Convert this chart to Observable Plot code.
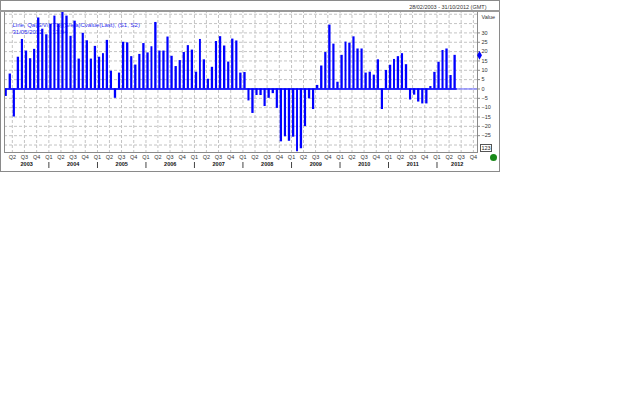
<!DOCTYPE html>
<html><head><meta charset="utf-8">
<script src="https://cdn.jsdelivr.net/npm/d3@7"></script>
<script src="https://cdn.jsdelivr.net/npm/@observablehq/plot@0.6"></script>
<style>
body{margin:0;background:#fff;font-family:"Liberation Sans",Arial,sans-serif;}
#wrap{position:relative;width:640px;height:403px;overflow:hidden;}
#wrap svg{position:absolute;left:0;top:0;}
.ov{position:absolute;box-sizing:border-box;}
</style></head><body><div id="wrap"></div>
<script>
// ---- data ----
const firstMonth = "2003-02-01";           // first bar (28/02/2003)
const values = [-4, 8, -15, 17, 26.5, 20.3, 16.2, 21.2, 38, 32, 29, 34.5, 39, 34.5, 41, 39, 28.2, 36.3,
  16, 29.8, 25.8, 16, 22.8, 17, 18.9, 26, 9.5, -5, 8.5, 25, 24.7, 17.3, 12.8, 18.5, 24.3,
  19.3, 22.6, 35.6, 20.3, 20.3, 27.8, 17.5, 12, 15.2, 19.5, 23.2, 20.8,
  9, 26.5, 15.6, 5.2, 11.6, 25.4, 28, 23, 14.4, 26.7, 25.7, 8.5,
  8.8, -6.4, -13.1, -3.5, -3.5, -9.4, -5, -2.5, -10.4, -28.3, -25.6, -28,
  -25.8, -33.6, -32, -20.1, -5.3, -11, 1.9, 12.3, 19.5, 34.2, 24, 3.6,
  18, 25.1, 24.5, 27.9, 21.4, 21.4, 8.5, 9, 7.4, 15.6, -11, 9.9,
  12.7, 15.8, 17.3, 18.9, 13, -5.9, -3.3, -7, -8, -8, 1.3, 8.9,
  14.3, 20.6, 21.4, 7.2, 18];
const quarterNames = ["Q1", "Q2", "Q3", "Q4"];
const years = [2003, 2004, 2005, 2006, 2007, 2008, 2009, 2010, 2011, 2012];
const yTicks = [30, 25, 20, 15, 10, 5, 0, -5, -10, -15, -20, -25];
const gridValues = [-30, -25, -20, -15, -10, -5, 0, 5, 10, 15, 20, 25, 30, 35, 40];
const rangeStart = "2003-02-01", rangeEnd = "2012-11-01";
const headerText = "28/02/2003 - 31/10/2012 (GMT)";
const legend1 = "Line, Qa(S/V/YTD)(S/e/a)Cvalue(Last), (S1, S2)";
const legend2 = "31/05/2012      17.94";
const yLabel = "Value";
const boxLabel = "123";

// ---- derived table ----
const t0 = new Date(firstMonth);
const data = values.map((v, i) => ({date: d3.utcMonth.offset(t0, i), value: v}));
const d0 = new Date(rangeStart), d1 = new Date(rangeEnd);
const quarters = d3.utcMonths(d0, d1).filter(d => d.getUTCMonth() % 3 === 0);
const yearStarts = years.slice(1).map(y => new Date(Date.UTC(y, 0, 1)));
const yearMid = years.map(y => {
  const a = Math.max(+new Date(Date.UTC(y, 0, 1)), +d0);
  const b = Math.min(+new Date(Date.UTC(y + 1, 0, 1)), +d1);
  return {year: y, mid: new Date((a + b) / 2)};
});
const last = data[data.length - 1];
const barEnd = d3.utcMonth.offset(last.date, 1);

const blue = "#0000ff";
const grid = "#c4c4c4";

const chart = Plot.plot({
  width: 640, height: 403,
  marginLeft: 4, marginTop: 10, marginRight: 163, marginBottom: 251,
  style: {fontFamily: "'Liberation Sans', Arial, sans-serif", fontSize: "6px", color: "#222", background: "transparent"},
  x: {type: "utc", domain: [d0, d1], axis: null},
  y: {domain: [-34, 42], axis: null},
  marks: [
    Plot.ruleY(gridValues, {stroke: grid, strokeDasharray: "3,2"}),
    Plot.ruleX(quarters, {stroke: grid, strokeDasharray: "3,2", insetBottom: -3}),
    Plot.text([legend1], {frameAnchor: "top-left", dx: 8, dy: 12, text: d => d, fill: "#3030f0", textAnchor: "start", fontSize: 6}),
    Plot.text([legend2], {frameAnchor: "top-left", dx: 8, dy: 19, text: d => d, fill: "#3030f0", textAnchor: "start", fontSize: 6}),
    Plot.ruleY([0], {stroke: "#5a5aff", strokeWidth: 1}),
    Plot.ruleY([0], {x1: data[0].date, x2: barEnd, stroke: blue, strokeWidth: 1.6}),
    Plot.rectY(data, {x: "date", y: "value", interval: d3.utcMonth, fill: blue, insetLeft: 0.9, insetRight: 0.9}),
    Plot.frame({stroke: "#8a8a8a"}),
    Plot.axisY(yTicks, {anchor: "right", label: null, tickSize: 2, tickPadding: 2, textAnchor: "start", fontSize: 5.5, color: "#333", stroke: "#8a8a8a"}),
    Plot.text([yLabel], {frameAnchor: "top-right", dx: 4, dy: 5, text: d => d, textAnchor: "start", fontSize: 5.5, fill: "#333"}),
    Plot.text([headerText], {frameAnchor: "top-right", dx: 9, dy: -5, text: d => d, textAnchor: "end", fontSize: 5.5, fill: "#333"}),
    Plot.dot([last], {x: d1, y: "value", symbol: "diamond", r: 2.6, fill: blue, dx: 2}),
    Plot.text(quarters, {x: d => d, frameAnchor: "bottom", dy: 6.5, text: d => quarterNames[Math.floor(d.getUTCMonth() / 3)], fontSize: 5.5, fill: "#333"}),
    Plot.text(yearMid, {x: "mid", frameAnchor: "bottom", dy: 13, text: d => String(d.year), fontWeight: "bold", fontSize: 5.5, fill: "#111"}),
    Plot.ruleX(yearStarts, {x: d => d, stroke: "#444", insetTop: 152, insetBottom: -16})
  ]
});
const wrap = document.getElementById("wrap");
wrap.appendChild(chart);

function ov(css, text) {
  const el = document.createElement("div");
  el.className = "ov";
  el.style.cssText = css;
  if (text) el.textContent = text;
  wrap.appendChild(el);
}
// outer chart box and header separator
ov("left:0;top:0;width:500px;height:172px;border:1px solid #8a8a8a;");
ov("left:0;top:9.5px;width:500px;height:0;border-top:2px solid #9a9a9a;");
// small box bottom-right and status dot
ov("left:480px;top:144px;width:12px;height:8px;border:1px solid #555;background:#fff;font-size:5.5px;line-height:6px;text-align:center;color:#222;", boxLabel);
ov("left:489.5px;top:154px;width:7px;height:7px;border-radius:50%;background:#1a8a1a;");
</script>
</body></html>
